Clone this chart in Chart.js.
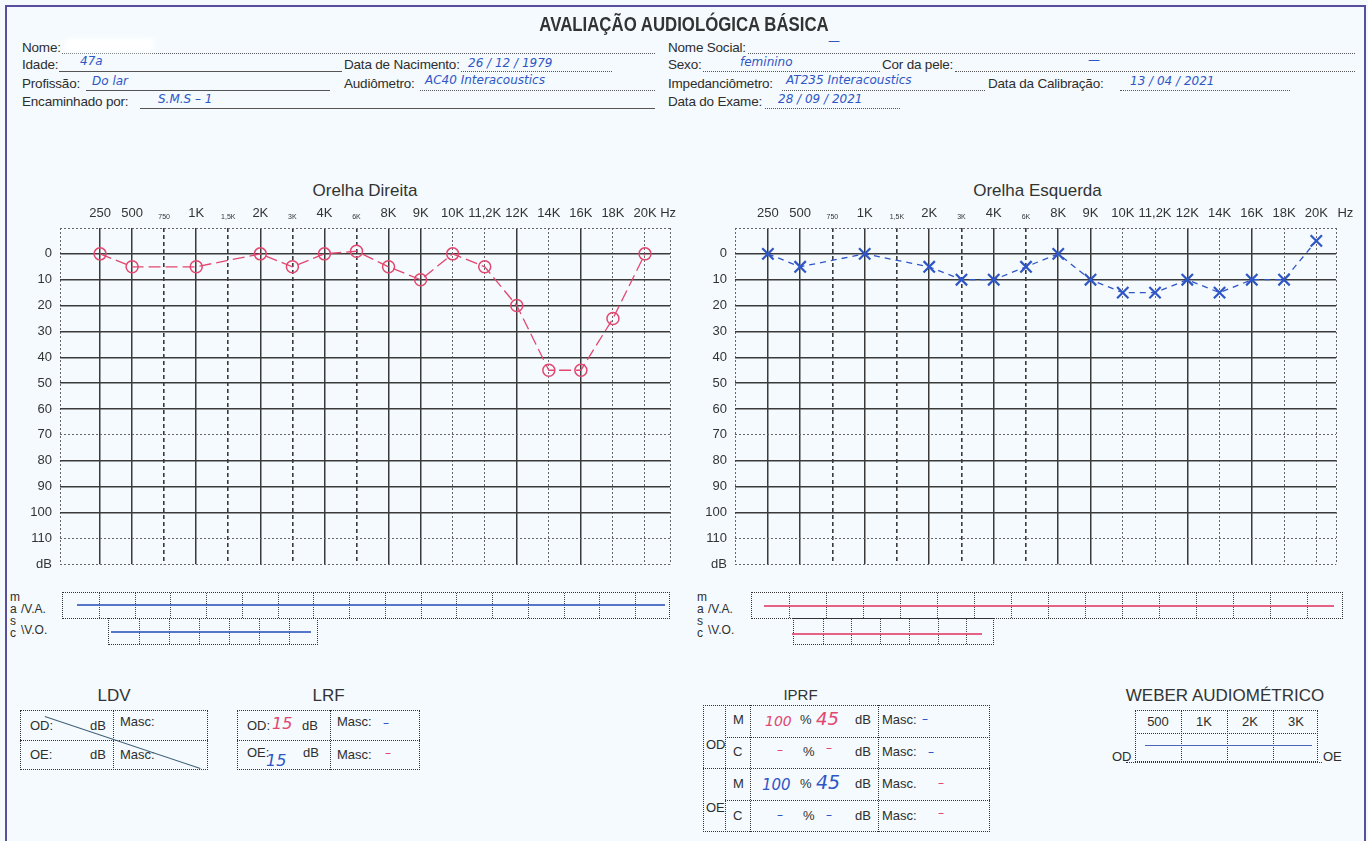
<!DOCTYPE html>
<html lang="pt-BR">
<head>
<meta charset="utf-8">
<title>Avaliação Audiológica Básica</title>
<script src="https://cdn.jsdelivr.net/npm/chart.js@4.4.1/dist/chart.umd.min.js"></script>
<style>
    body {
        margin: 0;
        width: 1368px;
        height: 841px;
        overflow: hidden;
        position: relative;
        background: #f4fafd;
        color: #2e2e2e;
        font-family: 'Liberation Sans', Arial, sans-serif;
        font-size: 13px;
    }
    .moldura { position: absolute; left: 5px; top: 5px; width: 1357px; height: 860px; border: 2px solid #5a4ea3; }
    .t { position: absolute; white-space: nowrap; line-height: 15px; background: #f4fafd; padding-right: 1px; font-size: 13.5px; letter-spacing: -0.2px; }
    .m { position: absolute; white-space: nowrap; font-family: 'DejaVu Sans', sans-serif; font-style: italic; font-size: 12px; line-height: 14px; }
    .azul { color: #2f56c6; }
    .verm { color: #e2476f; }
    .pont { position: absolute; height: 0; border-top: 1px dotted #555; }
    .sol { position: absolute; height: 0; border-top: 1px solid #555; }
    .titulo { position: absolute; left: 384px; width: 600px; top: 13px; text-align: center; font-weight: bold; font-size: 20px; color: #333; transform: scaleX(0.84); }
    .orelha { position: absolute; top: 181px; font-size: 17px; color: #333; text-align: center; }
    canvas { position: absolute; }
    .masc { position: absolute; border: 1px dotted #333; box-sizing: border-box; }
    .mascDiv { position: absolute; top: 0; bottom: 0; border-left: 1px dotted #444; }
    .risco { position: absolute; height: 0; }
    .caixa { position: absolute; border: 1px dotted #333; box-sizing: border-box; }
    .vl { position: absolute; width: 0; border-left: 1px dotted #333; }
    .hl { position: absolute; height: 0; border-top: 1px dotted #333; }
    .sub { position: absolute; font-size: 17px; color: #333; text-align: center; }
    .c { position: absolute; white-space: nowrap; line-height: 14px; }
</style>
</head>
<body>
<div class="moldura"></div>
<div class="titulo">AVALIAÇÃO AUDIOLÓGICA BÁSICA</div>

<!-- cabeçalho esquerdo -->
<div class="pont" style="left:60px;top:53px;width:595px"></div>
<div class="t" style="left:22px;top:40px">Nome:</div>
<div style="position:absolute;left:64px;top:38px;width:90px;height:14px;background:#fff;filter:blur(3px)"></div>

<div class="sol" style="left:58px;top:71px;width:284px"></div>
<div class="t" style="left:22px;top:57px">Idade:</div>
<div class="m azul" style="left:80px;top:54px">47a</div>
<div class="pont" style="left:452px;top:71px;width:160px"></div>
<div class="t" style="left:344px;top:57px">Data de Nacimento:</div>
<div class="m azul" style="left:468px;top:56px">26 / 12 / 1979</div>

<div class="sol" style="left:86px;top:90px;width:244px"></div>
<div class="t" style="left:22px;top:76px">Profissão:</div>
<div class="m azul" style="left:92px;top:74px">Do lar</div>
<div class="pont" style="left:420px;top:90px;width:235px"></div>
<div class="t" style="left:344px;top:76px">Audiômetro:</div>
<div class="m azul" style="left:425px;top:73px">AC40 Interacoustics</div>

<div class="sol" style="left:140px;top:108px;width:515px"></div>
<div class="t" style="left:22px;top:94px">Encaminhado por:</div>
<div class="m azul" style="left:158px;top:92px">S.M.S – 1</div>

<!-- cabeçalho direito -->
<div class="pont" style="left:745px;top:53px;width:610px"></div>
<div class="t" style="left:668px;top:40px">Nome Social:</div>
<div class="m azul" style="left:828px;top:34px">—</div>

<div class="pont" style="left:703px;top:71px;width:177px"></div>
<div class="t" style="left:668px;top:57px">Sexo:</div>
<div class="m azul" style="left:740px;top:55px">feminino</div>
<div class="pont" style="left:955px;top:71px;width:400px"></div>
<div class="t" style="left:882px;top:57px">Cor da pele:</div>
<div class="m azul" style="left:1088px;top:53px">—</div>

<div class="pont" style="left:782px;top:90px;width:203px"></div>
<div class="t" style="left:668px;top:76px">Impedanciômetro:</div>
<div class="m azul" style="left:786px;top:73px">AT235 Interacoustics</div>
<div class="pont" style="left:1120px;top:90px;width:170px"></div>
<div class="t" style="left:988px;top:76px">Data da Calibração:</div>
<div class="m azul" style="left:1130px;top:74px">13 / 04 / 2021</div>

<div class="pont" style="left:765px;top:108px;width:135px"></div>
<div class="t" style="left:668px;top:94px">Data do Exame:</div>
<div class="m azul" style="left:778px;top:92px">28 / 09 / 2021</div>

<!-- audiogramas -->
<div class="orelha" style="left:60px;width:610px">Orelha Direita</div>
<div class="orelha" style="left:735px;width:605px">Orelha Esquerda</div>
<canvas id="graficoDireita" width="690" height="410" style="left:0;top:170px"></canvas>
<canvas id="graficoEsquerda" width="670" height="410" style="left:690px;top:170px"></canvas>

<!-- mascaramento -->
<div class="c" style="left:10px;top:591px;font-size:12px;line-height:12px">m<br>a<br>s<br>c</div>
<div class="c" style="left:21px;top:602px;font-size:12px">/V.A.</div>
<div class="c" style="left:21px;top:623px;font-size:12px">\V.O.</div>
<div class="c" style="left:697px;top:591px;font-size:12px;line-height:12px">m<br>a<br>s<br>c</div>
<div class="c" style="left:708px;top:602px;font-size:12px">/V.A.</div>
<div class="c" style="left:708px;top:623px;font-size:12px">\V.O.</div>
<div id="mascaras"></div>

<!-- LDV -->
<div class="sub" style="left:20px;top:686px;width:188px">LDV</div>
<div class="caixa" style="left:20px;top:710px;width:188px;height:60px"></div>
<div class="hl" style="left:20px;top:740px;width:188px"></div>
<div class="vl" style="left:113px;top:710px;height:60px"></div>
<div class="c" style="left:30px;top:719px">OD:</div>
<div class="c" style="left:90px;top:719px">dB</div>
<div class="c" style="left:120px;top:715px">Masc:</div>
<div class="c" style="left:30px;top:748px">OE:</div>
<div class="c" style="left:90px;top:748px">dB</div>
<div class="c" style="left:120px;top:748px">Masc:</div>
<div style="position:absolute;left:45px;top:716px;width:164px;height:0;border-top:1.5px solid #3d6079;transform-origin:0 0;transform:rotate(18.5deg)"></div>

<!-- LRF -->
<div class="sub" style="left:237px;top:686px;width:183px">LRF</div>
<div class="caixa" style="left:237px;top:710px;width:183px;height:60px"></div>
<div class="hl" style="left:237px;top:740px;width:183px"></div>
<div class="vl" style="left:330px;top:710px;height:60px"></div>
<div class="c" style="left:247px;top:719px">OD:</div>
<div class="m verm" style="left:272px;top:715px;font-size:16px;line-height:18px">15</div>
<div class="c" style="left:302px;top:719px">dB</div>
<div class="c" style="left:337px;top:715px">Masc:</div>
<div class="m azul" style="left:383px;top:716px">–</div>
<div class="c" style="left:247px;top:746px">OE:</div>
<div class="m azul" style="left:266px;top:752px;font-size:16px;line-height:18px">15</div>
<div class="c" style="left:303px;top:746px">dB</div>
<div class="c" style="left:337px;top:748px">Masc:</div>
<div class="m verm" style="left:385px;top:746px">–</div>

<!-- IPRF -->
<div class="sub" style="left:703px;top:686px;width:195px;font-size:15px">IPRF</div>
<div class="caixa" style="left:703px;top:705px;width:287px;height:127px"></div>
<div class="vl" style="left:725px;top:705px;height:127px"></div>
<div class="vl" style="left:750px;top:705px;height:127px"></div>
<div class="vl" style="left:878px;top:705px;height:127px"></div>
<div class="hl" style="left:725px;top:737px;width:265px"></div>
<div class="hl" style="left:703px;top:768px;width:287px;border-top-width:1.5px"></div>
<div class="hl" style="left:725px;top:800px;width:265px"></div>
<div class="c" style="left:706px;top:738px">OD</div>
<div class="c" style="left:706px;top:801px">OE</div>
<div class="c" style="left:733px;top:713px">M</div>
<div class="c" style="left:733px;top:745px">C</div>
<div class="c" style="left:733px;top:777px">M</div>
<div class="c" style="left:733px;top:809px">C</div>

<div class="m verm" style="left:765px;top:713px;font-size:14px;line-height:16px">100</div>
<div class="c" style="left:800px;top:713px">%</div>
<div class="m verm" style="left:816px;top:709px;font-size:18px;line-height:20px">45</div>
<div class="c" style="left:855px;top:713px">dB</div>
<div class="c" style="left:882px;top:713px">Masc:</div>
<div class="m azul" style="left:922px;top:712px">–</div>

<div class="m verm" style="left:777px;top:743px">–</div>
<div class="c" style="left:803px;top:745px">%</div>
<div class="m verm" style="left:826px;top:741px">–</div>
<div class="c" style="left:855px;top:745px">dB</div>
<div class="c" style="left:882px;top:745px">Masc:</div>
<div class="m azul" style="left:928px;top:745px">–</div>

<div class="m azul" style="left:762px;top:777px;font-size:15px;line-height:17px">100</div>
<div class="c" style="left:800px;top:777px">%</div>
<div class="m azul" style="left:816px;top:772px;font-size:19px;line-height:21px">45</div>
<div class="c" style="left:855px;top:777px">dB</div>
<div class="c" style="left:882px;top:777px">Masc.</div>
<div class="m verm" style="left:938px;top:776px">–</div>

<div class="m azul" style="left:777px;top:808px">–</div>
<div class="c" style="left:803px;top:809px">%</div>
<div class="m azul" style="left:826px;top:808px">–</div>
<div class="c" style="left:855px;top:809px">dB</div>
<div class="c" style="left:882px;top:809px">Masc:</div>
<div class="m verm" style="left:938px;top:806px">–</div>

<!-- Weber -->
<div class="sub" style="left:1120px;top:686px;width:210px">WEBER AUDIOMÉTRICO</div>
<div class="caixa" style="left:1135px;top:710px;width:183px;height:52px"></div>
<div class="hl" style="left:1135px;top:733px;width:183px"></div>
<div class="vl" style="left:1181px;top:710px;height:52px"></div>
<div class="vl" style="left:1227px;top:710px;height:52px"></div>
<div class="vl" style="left:1273px;top:710px;height:52px"></div>
<div class="hl" style="left:1126px;top:762px;width:196px"></div>
<div class="c" style="left:1135px;top:715px;width:46px;text-align:center">500</div>
<div class="c" style="left:1181px;top:715px;width:46px;text-align:center">1K</div>
<div class="c" style="left:1227px;top:715px;width:46px;text-align:center">2K</div>
<div class="c" style="left:1273px;top:715px;width:46px;text-align:center">3K</div>
<div class="c" style="left:1112px;top:750px">OD</div>
<div class="c" style="left:1323px;top:750px">OE</div>
<div class="risco" style="left:1145px;top:745px;width:167px;border-top:1.5px solid #4a66b8"></div>

<script>
    // frequências (colunas do audiograma)
    const frequencias = ['250', '500', '750', '1K', '1,5K', '2K', '3K', '4K', '6K', '8K', '9K', '10K', '11,2K', '12K', '14K', '16K', '18K', '20K'];
    const intermediarias = ['750', '1,5K', '3K', '6K'];
    const niveisDb = [0, 10, 20, 30, 40, 50, 60, 70, 80, 90, 100, 110];

    // limiares em dB (null = não testado)
    const limiaresDireita = [0, 5, null, 5, null, 0, 5, 0, -1, 5, 10, 0, 5, 20, 45, 45, 25, 0];
    const limiaresEsquerda = [0, 5, null, 0, null, 5, 10, 10, 5, 0, 10, 15, 15, 10, 15, 10, 10, -5];

    const FONTE = "'Liberation Sans', Arial, sans-serif";
    const COR_GRADE = '#3a3a3a';

    // estilo das linhas verticais
    const tracejadas = ['750', '1,5K', '3K', '6K'];
    const pontilhadas = ['10K', '11,2K', '14K', '18K', '20K'];
    const horizPontilhadas = [-10, 70, 110, 120];

    function criarAudiograma(canvasId, valores, cor, simbolo, raio, traco, xMin, xMax, xHz, larguraY) {
        const ctx = document.getElementById(canvasId).getContext('2d');

        const pontos = valores.map((v, i) => ({ x: i, y: v }));
        const n = frequencias.length;

        function freqDoTick(c) {
            if (!c.tick) return null;
            const v = c.tick.value;
            if (Number.isInteger(v) && v >= 0 && v < n) return frequencias[v];
            return null;
        }

        return new Chart(ctx, {
            type: 'line',
            data: {
                datasets: [{
                    data: pontos,
                    borderColor: cor,
                    borderWidth: 1.3,
                    borderDash: traco,
                    spanGaps: true,
                    pointStyle: simbolo,
                    pointRadius: raio,
                    pointBorderWidth: simbolo === 'circle' ? 1.5 : 2.2,
                    pointBorderColor: cor,
                    pointBackgroundColor: 'rgba(0,0,0,0)',
                    tension: 0
                }]
            },
            options: {
                responsive: false,
                animation: false,
                clip: false,
                layout: { padding: { left: 0, right: 20, top: 0, bottom: 8 } },
                plugins: {
                    legend: { display: false },
                    tooltip: { enabled: false }
                },
                scales: {
                    x: {
                        type: 'linear',
                        position: 'top',
                        min: xMin,
                        max: xMax,
                        afterBuildTicks: function (scale) {
                            const t = [xMin];
                            frequencias.forEach((f, i) => t.push(i));
                            t.push(xMax, xHz);
                            scale.ticks = t.map(v => ({ value: v }));
                        },
                        afterFit: function (scale) { scale.height = 58; },
                        ticks: {
                            autoSkip: false,
                            maxRotation: 0,
                            padding: 7,
                            color: '#333',
                            font: function (c) {
                                const f = freqDoTick(c);
                                return { family: FONTE, size: (f && intermediarias.includes(f)) ? 7 : 13 };
                            },
                            callback: function (value, index) {
                                if (index === n + 2) return 'Hz';
                                if (index === 0 || index === n + 1) return '';
                                return frequencias[index - 1];
                            }
                        },
                        grid: {
                            drawTicks: false,
                            color: function (c) {
                                const f = freqDoTick(c);
                                return (f && pontilhadas.includes(f)) || !f ? '#666' : COR_GRADE;
                            },
                            lineWidth: function (c) {
                                if (c.index === n + 2) return 0;
                                const f = freqDoTick(c);
                                if (!f) return 1;
                                if (pontilhadas.includes(f)) return 1;
                                return tracejadas.includes(f) ? 1.6 : 1.5;
                            }
                        },
                        border: {
                            display: false,
                            dash: function (c) {
                                const f = freqDoTick(c);
                                if (!f) return [2, 2];
                                if (tracejadas.includes(f)) return [4, 3];
                                if (pontilhadas.includes(f)) return [2, 2];
                                return [];
                            }
                        }
                    },
                    y: {
                        type: 'linear',
                        reverse: true,
                        min: -10,
                        max: 120,
                        afterBuildTicks: function (scale) {
                            scale.ticks = [-10].concat(niveisDb, [120]).map(v => ({ value: v }));
                        },
                        afterFit: function (scale) { scale.width = larguraY; },
                        ticks: {
                            padding: 8,
                            color: '#333',
                            font: { family: FONTE, size: 13 },
                            callback: function (value) {
                                if (value === -10) return '';
                                if (value === 120) return 'dB';
                                return value;
                            }
                        },
                        grid: {
                            drawTicks: false,
                            color: function (c) {
                                return c.tick && horizPontilhadas.includes(c.tick.value) ? '#666' : COR_GRADE;
                            },
                            lineWidth: function (c) {
                                return c.tick && horizPontilhadas.includes(c.tick.value) ? 1 : 1.5;
                            }
                        },
                        border: {
                            display: false,
                            dash: function (c) {
                                return c.tick && horizPontilhadas.includes(c.tick.value) ? [2, 2] : [];
                            }
                        }
                    }
                }
            }
        });
    }

    criarAudiograma('graficoDireita', limiaresDireita, '#e2476f', 'circle', 6, [12, 5], -1.25, 17.78, 17.72, 60);
    criarAudiograma('graficoEsquerda', limiaresEsquerda, '#2f56c6', 'crossRot', 8, [6, 5], -1.02, 17.61, 17.9, 45);

    // caixas de mascaramento
    function caixaMasc(left, top, width, height, n) {
        const box = document.createElement('div');
        box.className = 'masc';
        box.style.left = left + 'px';
        box.style.top = top + 'px';
        box.style.width = width + 'px';
        box.style.height = height + 'px';
        for (let i = 1; i < n; i++) {
            const d = document.createElement('div');
            d.className = 'mascDiv';
            d.style.left = Math.round(width * i / n) + 'px';
            box.appendChild(d);
        }
        document.getElementById('mascaras').appendChild(box);
    }

    function riscoMasc(left, top, width, cor) {
        const r = document.createElement('div');
        r.className = 'risco';
        r.style.left = left + 'px';
        r.style.top = top + 'px';
        r.style.width = width + 'px';
        r.style.borderTop = '2px solid ' + cor;
        r.style.opacity = '0.85';
        document.getElementById('mascaras').appendChild(r);
    }

    caixaMasc(62, 592, 608, 27, 17);
    caixaMasc(108, 618, 210, 27, 7);
    caixaMasc(751, 592, 592, 27, 16);
    caixaMasc(793, 618, 201, 27, 7);
    riscoMasc(77, 604, 588, '#3a5fc0');
    riscoMasc(111, 631, 200, '#3a5fc0');
    riscoMasc(764, 605, 570, '#e2476f');
    riscoMasc(792, 633, 190, '#e2476f');
</script>
</body>
</html>
